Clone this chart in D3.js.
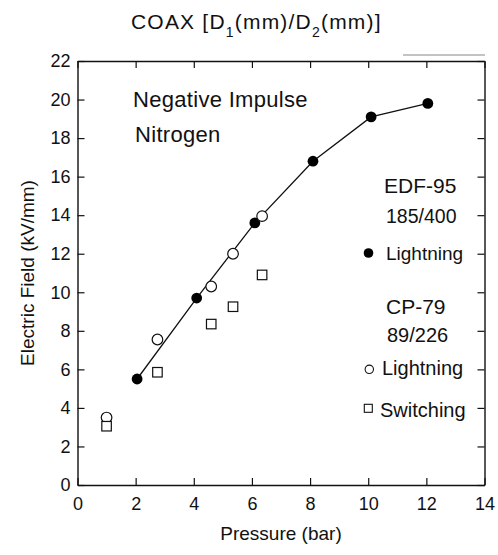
<!DOCTYPE html>
<html>
<head>
<meta charset="utf-8">
<script src="https://cdn.jsdelivr.net/npm/d3@7"></script>
<style>
  body { margin: 0; background: #fff; }
  text { font-family: "Liberation Sans", Arial, sans-serif; fill: #111; }
</style>
</head>
<body>
<div id="chart"></div>
<script>
// EDF-95 185/400, lightning (filled circles, joined by line)
const edfPressure = [2.05, 4.1, 6.1, 8.1, 10.1, 12.05];
const edfField = [5.5, 9.7, 13.6, 16.8, 19.1, 19.8];
// CP-79 89/226, lightning (open circles)
const cpLightPressure = [1.0, 2.75, 4.6, 5.35, 6.35];
const cpLightField = [3.5, 7.55, 10.3, 12.0, 13.95];
// CP-79 89/226, switching (open squares)
const cpSwitchPressure = [1.0, 2.75, 4.6, 5.35, 6.35];
const cpSwitchField = [3.05, 5.85, 8.35, 9.25, 10.9];

const xTicks = [0, 2, 4, 6, 8, 10, 12, 14];
const yTicks = [0, 2, 4, 6, 8, 10, 12, 14, 16, 18, 20, 22];

const width = 498, height = 555;
const margin = { top: 61, right: 13.5, bottom: 70, left: 77.5 };
const innerW = width - margin.left - margin.right;
const innerH = height - margin.top - margin.bottom;

const svg = d3.select('#chart').append('svg')
    .attr('width', width)
    .attr('height', height);

const chart = svg.append('g')
    .attr('transform', `translate(${margin.left},${margin.top})`);

const x = d3.scaleLinear().domain([0, 14]).range([0, innerW]);
const y = d3.scaleLinear().domain([0, 22]).range([innerH, 0]);

// axes: ticks pointing inward on all four sides
const styleAxis = g => {
    g.select('.domain').attr('stroke', '#111').attr('stroke-width', 1.4);
    g.selectAll('.tick line').attr('stroke', '#111').attr('stroke-width', 1.2);
    g.selectAll('.tick text')
        .style('font-size', '18px')
        .style('font-family', '"Liberation Sans", Arial, sans-serif')
        .attr('fill', '#111');
};

chart.append('g')
    .attr('transform', `translate(0,${innerH})`)
    .call(d3.axisBottom(x).tickValues(xTicks).tickSizeInner(-7).tickSizeOuter(0).tickPadding(12))
    .call(styleAxis);

chart.append('g')
    .call(d3.axisLeft(y).tickValues(yTicks).tickSizeInner(-7).tickSizeOuter(0).tickPadding(7))
    .call(styleAxis);

chart.append('g')
    .call(d3.axisTop(x).tickValues(xTicks).tickSizeInner(-7).tickSizeOuter(0).tickFormat(''))
    .call(styleAxis);

chart.append('g')
    .attr('transform', `translate(${innerW},0)`)
    .call(d3.axisRight(y).tickValues(yTicks).tickSizeInner(-7).tickSizeOuter(0).tickFormat(''))
    .call(styleAxis);

// line through EDF points
const edfData = edfPressure.map((p, i) => ({ p: p, e: edfField[i] }));
chart.append('path')
    .datum(edfData)
    .attr('fill', 'none')
    .attr('stroke', '#111')
    .attr('stroke-width', 1.3)
    .attr('d', d3.line().x(d => x(d.p)).y(d => y(d.e)));

chart.selectAll('.edf')
    .data(edfData)
    .enter().append('circle')
    .attr('class', 'edf')
    .attr('cx', d => x(d.p))
    .attr('cy', d => y(d.e))
    .attr('r', 5.4)
    .attr('fill', '#000');

const cpLight = cpLightPressure.map((p, i) => ({ p: p, e: cpLightField[i] }));
chart.selectAll('.cpl')
    .data(cpLight)
    .enter().append('circle')
    .attr('class', 'cpl')
    .attr('cx', d => x(d.p))
    .attr('cy', d => y(d.e))
    .attr('r', 5.3)
    .attr('fill', '#fff')
    .attr('stroke', '#111')
    .attr('stroke-width', 1.2);

const cpSwitch = cpSwitchPressure.map((p, i) => ({ p: p, e: cpSwitchField[i] }));
const sq = 9.5;
chart.selectAll('.cps')
    .data(cpSwitch)
    .enter().append('rect')
    .attr('class', 'cps')
    .attr('x', d => x(d.p) - sq / 2)
    .attr('y', d => y(d.e) - sq / 2)
    .attr('width', sq)
    .attr('height', sq)
    .attr('fill', '#fff')
    .attr('stroke', '#111')
    .attr('stroke-width', 1.2);

// title with subscripts
const title = svg.append('text')
    .attr('x', 131)
    .attr('y', 29)
    .style('font-size', '21px')
    .style('letter-spacing', '1.2px');
title.append('tspan').text('COAX [D');
title.append('tspan').attr('baseline-shift', 'sub').style('font-size', '14px').text('1');
title.append('tspan').text('(mm)/D');
title.append('tspan').attr('baseline-shift', 'sub').style('font-size', '14px').text('2');
title.append('tspan').text('(mm)]');

// faint stroke above top right corner
svg.append('line')
    .attr('x1', 403).attr('x2', 485)
    .attr('y1', 55).attr('y2', 55)
    .attr('stroke', '#888')
    .attr('stroke-width', 1);

// axis titles
svg.append('text')
    .attr('x', margin.left + innerW / 2)
    .attr('y', 540)
    .attr('text-anchor', 'middle')
    .style('font-size', '19px')
    .text('Pressure (bar)');

svg.append('text')
    .attr('transform', `translate(34,${margin.top + innerH / 2}) rotate(-90)`)
    .attr('text-anchor', 'middle')
    .style('font-size', '19px')
    .text('Electric Field (kV/mm)');

// annotations
svg.append('text').attr('x', 133).attr('y', 107).style('font-size', '22px').style('letter-spacing', '0.3px').text('Negative Impulse');
svg.append('text').attr('x', 135).attr('y', 142).style('font-size', '22px').style('letter-spacing', '0.3px').text('Nitrogen');

// legend
const leg = svg.append('g');
leg.append('text').attr('x', 384).attr('y', 193).style('font-size', '21px').text('EDF-95');
leg.append('text').attr('x', 386).attr('y', 223).style('font-size', '19.5px').text('185/400');
leg.append('circle').attr('cx', 368.5).attr('cy', 253).attr('r', 4.8).attr('fill', '#000');
leg.append('text').attr('x', 386).attr('y', 260).style('font-size', '19px').text('Lightning');
leg.append('text').attr('x', 386).attr('y', 314).style('font-size', '21px').text('CP-79');
leg.append('text').attr('x', 387).attr('y', 341.5).style('font-size', '20px').text('89/226');
leg.append('circle').attr('cx', 369.3).attr('cy', 369.3).attr('r', 4.2).attr('fill', '#fff').attr('stroke', '#111').attr('stroke-width', 1.1);
leg.append('text').attr('x', 382).attr('y', 375).style('font-size', '20px').text('Lightning');
leg.append('rect').attr('x', 364.3).attr('y', 404.3).attr('width', 8).attr('height', 8).attr('fill', '#fff').attr('stroke', '#111').attr('stroke-width', 1.1);
leg.append('text').attr('x', 380).attr('y', 416.5).style('font-size', '20px').text('Switching');
</script>
</body>
</html>
